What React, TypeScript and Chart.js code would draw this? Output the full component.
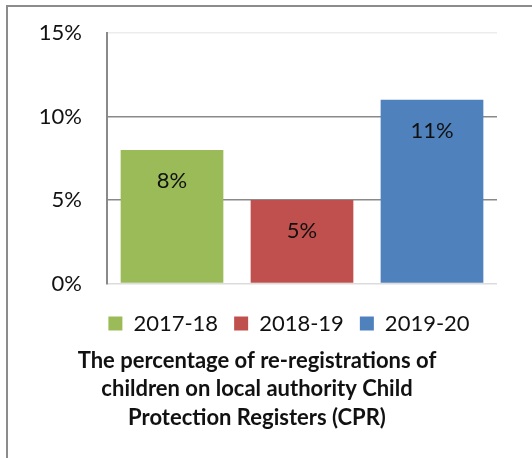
import React, { useEffect, useRef } from "react";
import { Chart, registerables } from "chart.js";

Chart.register(...registerables);

const categories = ["2017-18", "2018-19", "2019-20"];
const values = [8, 5, 11];
const colors = ["#9BBB59", "#C0504D", "#4F81BD"];
const yTicks = [0, 5, 10, 15];
const titleLines = [
  "The percentage of re-registrations of",
  "children on local authority Child",
  "Protection Registers (CPR)",
];

const FONT = "Lato, 'Open Sans', sans-serif";

const dataLabels = {
  id: "dataLabels",
  afterDatasetsDraw(chart: any) {
    const ctx = chart.ctx;
    ctx.save();
    ctx.font = `22px ${FONT}`;
    ctx.fillStyle = "#111";
    ctx.textAlign = "center";
    ctx.textBaseline = "middle";
    chart.data.datasets.forEach((ds: any, di: number) => {
      const meta = chart.getDatasetMeta(di);
      meta.data.forEach((el: any, i: number) => {
        const v = ds.data[i];
        if (v === null || v === undefined) return;
        ctx.fillText(`${v}%`, el.x, el.y + 31);
      });
    });
    ctx.restore();
  },
};

const boxShift = {
  id: "boxShift",
  afterLayout(chart: any) {
    if (chart.legend) {
      chart.legend.left += 36;
      chart.legend.right += 36;
    }
    if (chart.titleBlock) {
      chart.titleBlock.left += 4;
      chart.titleBlock.right += 4;
    }
  },
};

export default function App() {
  const ref = useRef<HTMLCanvasElement | null>(null);
  useEffect(() => {
    if (!ref.current) return;
    const datasets = categories.map((c, i) => ({
      label: c,
      data: categories.map((_, j) => (j === i ? values[i] : null)),
      backgroundColor: colors[i],
      borderWidth: 0,
      grouped: false,
      barPercentage: 0.79,
      categoryPercentage: 1,
    }));
    const chart = new Chart(ref.current, {
      type: "bar",
      data: { labels: categories, datasets },
      plugins: [dataLabels, boxShift],
      options: {
        animation: false,
        responsive: false,
        layout: { padding: { left: 9, right: 35, top: 33, bottom: 26 } },
        scales: {
          x: {
            grid: { display: false },
            border: { display: false },
            ticks: { display: false },
            afterFit: (s: any) => {
              s.height = 13;
            },
          },
          y: {
            min: 0,
            max: 15,
            afterBuildTicks: (s: any) => {
              s.ticks = yTicks.map((v) => ({ value: v }));
            },
            ticks: {
              padding: 25,
              color: "#111",
              font: { family: FONT, size: 22 },
              callback: (v: any) => `${v}%`,
            },
            grid: {
              drawTicks: false,
              color: (c: any) =>
                c.tick && (c.tick.value === 15 ? "#ececec" : c.tick.value === 0 ? "#dcdcdc" : "#898989"),
              lineWidth: 1.5,
            },
            border: { color: "#898989", width: 2 },
            afterFit: (s: any) => {
              s.width = 98;
              s.paddingTop = 13;
              s.paddingBottom = 13;
            },
          },
        },
        plugins: {
          tooltip: { enabled: false },
          legend: {
            position: "bottom",
            fullSize: true,
            labels: {
              boxWidth: 14,
              boxHeight: 14,
              padding: 16,
              color: "#111",
              font: { family: FONT, size: 22 },
            },
          },
          title: {
            display: true,
            position: "bottom",
            text: titleLines,
            color: "#111",
            padding: { top: 2, bottom: 0 },
            font: { family: FONT, size: 22, weight: "bold", lineHeight: 28.5 / 22 },
          },
        },
      },
    });
    return () => chart.destroy();
  }, []);
  return (
    <div style={{ position: "absolute", left: 0, top: 0, width: 532, height: 458, background: "#fff", overflow: "hidden" }}>
      <div
        style={{
          position: "absolute",
          left: 6,
          top: 5,
          width: 600,
          height: 600,
          borderTop: "2px solid #8c8c8c",
          borderLeft: "2px solid #8c8c8c",
        }}
      />
      <canvas ref={ref} width={532} height={458} style={{ position: "absolute", left: 0, top: 0 }} />
    </div>
  );
}
